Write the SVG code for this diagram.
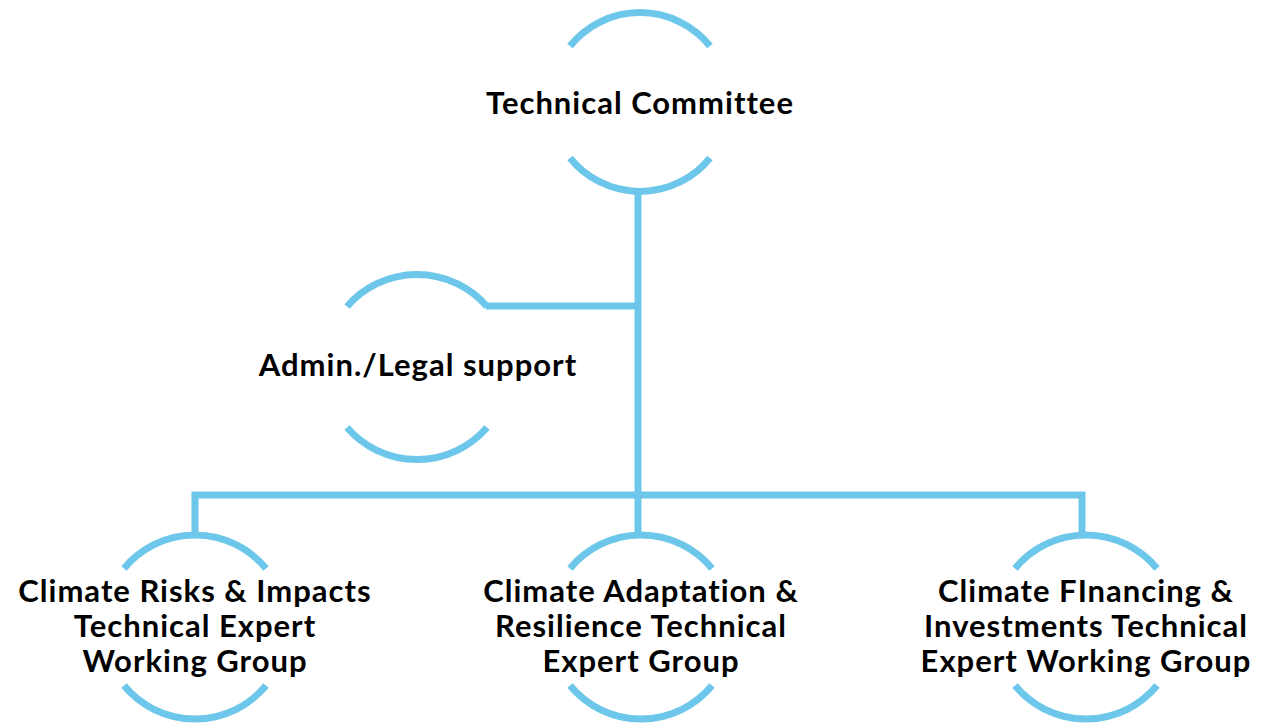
<svg xmlns="http://www.w3.org/2000/svg" width="1271" height="724" viewBox="0 0 1271 724">
<style>
.arc{fill:none;stroke:#6cc7ea;stroke-width:7}
.con{fill:none;stroke:#6cc7ea;stroke-width:7}
.lbl{font-family:Lato,"Noto Sans","Liberation Sans",sans-serif;font-weight:bold;font-size:31px;letter-spacing:1px;fill:#000;text-anchor:middle}
</style>
<rect width="1271" height="724" fill="#fff"/>
<g id="connectors">
<path class="con" d="M638,192 V534"/>
<path class="con" d="M486,306 H638"/>
<path class="con" d="M195,535 V495 H1082 V535"/>
</g>
<g id="technical-committee">
<path class="arc" d="M570,46 A90,90 0 0 1 710,46"/>
<path class="arc" d="M570,158 A90,90 0 0 0 710,158"/>
<text class="lbl" x="640" y="114">Technical Committee</text>
</g>
<g id="admin-legal">
<path class="arc" d="M347,306.5 A92.5,92.5 0 0 1 487,306.5"/>
<path class="arc" d="M347,427.5 A92.5,92.5 0 0 0 487,427.5"/>
<text class="lbl" x="418" y="376">Admin./Legal support</text>
</g>
<g id="climate-risks">
<path class="arc" d="M124,568.5 A92,92 0 0 1 266,568.5"/>
<path class="arc" d="M124,685.5 A92,92 0 0 0 266,685.5"/>
<text class="lbl" x="195" y="602">Climate Risks &amp; Impacts</text>
<text class="lbl" x="195" y="637">Technical Expert</text>
<text class="lbl" x="195" y="672">Working Group</text>
</g>
<g id="climate-adaptation">
<path class="arc" d="M570,568.5 A92,92 0 0 1 712,568.5"/>
<path class="arc" d="M570,685.5 A92,92 0 0 0 712,685.5"/>
<text class="lbl" x="641" y="602">Climate Adaptation &amp;</text>
<text class="lbl" x="641" y="637">Resilience Technical</text>
<text class="lbl" x="641" y="672">Expert Group</text>
</g>
<g id="climate-financing">
<path class="arc" d="M1015,568.5 A92,92 0 0 1 1157,568.5"/>
<path class="arc" d="M1015,685.5 A92,92 0 0 0 1157,685.5"/>
<text class="lbl" x="1086" y="602">Climate FInancing &amp;</text>
<text class="lbl" x="1086" y="637">Investments Technical</text>
<text class="lbl" x="1086" y="672">Expert Working Group</text>
</g>
</svg>
